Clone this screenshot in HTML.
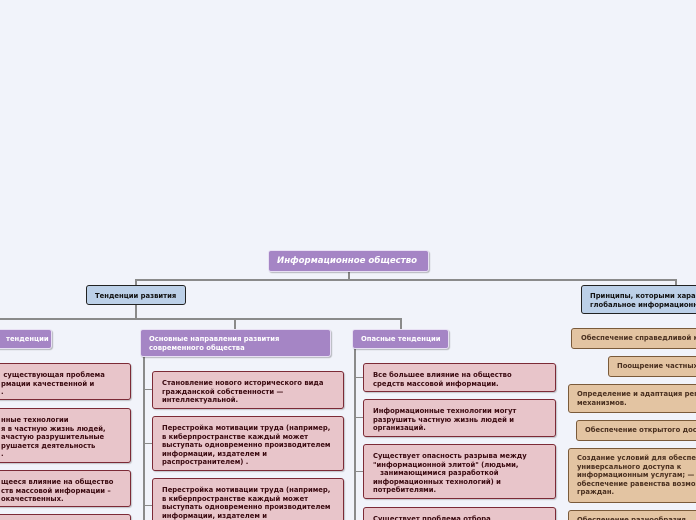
<!DOCTYPE html>
<html><head><meta charset="utf-8"><style>
html,body{margin:0;padding:0;width:696px;height:520px;overflow:hidden}
#c{position:absolute;left:0;top:0;width:696px;height:520px;overflow:hidden;background:#f1f3fa;font-family:"DejaVu Sans","Liberation Sans",sans-serif;font-weight:bold;font-size:6.8px;line-height:8.6px}
.b{position:absolute;box-sizing:border-box;border-radius:3px;overflow:hidden;white-space:nowrap}
.p{background:#e8c5ca;border:1.5px solid #7c2a36;color:#3a0a10;padding:7px 0 0 9px;box-shadow:1px 1px 1px rgba(0,0,0,.2)}
.t{background:#e3c4a2;border:1.5px solid #7a5a3a;color:#4a3020;padding:5px 0 0 8px}
.u{background:#a585c5;border:1px solid #e8e0f4;color:#fff;padding:5px 0 0 8px;box-shadow:1px 1px 1px rgba(0,0,0,.25)}
.bl{background:#bcd0e8;border:1.5px solid #222;color:#111;padding:6px 0 0 8px}
.l{position:absolute;background:#8a8a8a}
</style></head><body><div id="c">
<div class="l" style="left:348px;top:271px;width:2px;height:10px"></div>
<div class="l" style="left:135px;top:279px;width:541px;height:2px"></div>
<div class="l" style="left:135px;top:279px;width:2px;height:7px"></div>
<div class="l" style="left:675px;top:279px;width:2px;height:7px"></div>
<div class="l" style="left:135px;top:305px;width:2px;height:14px"></div>
<div class="l" style="left:0px;top:318px;width:401px;height:2px"></div>
<div class="l" style="left:234px;top:318px;width:2px;height:11px"></div>
<div class="l" style="left:400px;top:318px;width:2px;height:11px"></div>
<div class="l" style="left:143px;top:356px;width:2px;height:164px"></div>
<div class="l" style="left:143px;top:389px;width:9px;height:1px"></div>
<div class="l" style="left:143px;top:443px;width:9px;height:1px"></div>
<div class="l" style="left:143px;top:505px;width:9px;height:1px"></div>
<div class="l" style="left:354px;top:348px;width:2px;height:172px"></div>
<div class="l" style="left:354px;top:377px;width:9px;height:1px"></div>
<div class="l" style="left:354px;top:417px;width:9px;height:1px"></div>
<div class="l" style="left:354px;top:471px;width:9px;height:1px"></div>

<div class="b u" style="left:268px;top:250px;width:161px;height:22px;font-size:8.6px;font-style:italic;padding:6px 0 0 8px">Информационное общество</div>
<div class="b bl" style="left:86px;top:285px;width:100px;height:20px">Тенденции развития</div>
<div class="b bl" style="left:581px;top:285px;width:130px;height:29px;padding:6px 0 0 8px">Принципы, которыми характеризуется<br>глобальное информационное общество</div>

<div class="b u" style="left:-60px;top:329px;width:112px;height:20px;padding-left:65px">тенденции</div>
<div class="b u" style="left:140px;top:329px;width:191px;height:28px">Основные направления развития<br>современного общества</div>
<div class="b u" style="left:352px;top:329px;width:97px;height:20px">Опасные тенденции</div>

<div class="b p" style="left:-100px;top:363px;width:231px;height:37px;padding-left:100px">&nbsp;существующая проблема<br>рмации качественной и<br>.</div>
<div class="b p" style="left:-100px;top:408px;width:231px;height:55px;padding-left:100px">нные технологии<br>я в частную жизнь людей,<br>ачастую разрушительные<br>рушается деятельность<br>.</div>
<div class="b p" style="left:-100px;top:470px;width:231px;height:37px;padding-left:100px">щееся влияние на общество<br>ств массовой информации –<br>окачественных.</div>
<div class="b p" style="left:-100px;top:514px;width:231px;height:30px"></div>

<div class="b p" style="left:152px;top:371px;width:192px;height:38px">Становление нового исторического вида<br>гражданской собственности —<br>интеллектуальной.</div>
<div class="b p" style="left:152px;top:416px;width:192px;height:55px">Перестройка мотивации труда (например,<br>в киберпространстве каждый может<br>выступать одновременно производителем<br>информации, издателем и<br>распространителем) .</div>
<div class="b p" style="left:152px;top:478px;width:192px;height:55px">Перестройка мотивации труда (например,<br>в киберпространстве каждый может<br>выступать одновременно производителем<br>информации, издателем и</div>

<div class="b p" style="left:363px;top:363px;width:193px;height:29px">Все большее влияние на общество<br>средств массовой информации.</div>
<div class="b p" style="left:363px;top:399px;width:193px;height:38px">Информационные технологии могут<br>разрушить частную жизнь людей и<br>организаций.</div>
<div class="b p" style="left:363px;top:444px;width:193px;height:55px">Существует опасность разрыва между<br>"информационной элитой" (людьми,<br>&nbsp;&nbsp;&nbsp;занимающимися разработкой<br>информационных технологий) и<br>потребителями.</div>
<div class="b p" style="left:363px;top:507px;width:193px;height:30px">Существует проблема отбора</div>

<div class="b t" style="left:571px;top:328px;width:160px;height:21px;padding-left:9px">Обеспечение справедливой конкуренции</div>
<div class="b t" style="left:608px;top:356px;width:120px;height:21px">Поощрение частных инвестиций</div>
<div class="b t" style="left:568px;top:384px;width:160px;height:29px;padding-top:5px">Определение и адаптация регулирующих<br>механизмов.</div>
<div class="b t" style="left:576px;top:420px;width:150px;height:21px">Обеспечение открытого доступа к сетям</div>
<div class="b t" style="left:568px;top:448px;width:160px;height:55px">Создание условий для обеспечения<br>универсального доступа к<br>информационным услугам; —<br>обеспечение равенства возможностей<br>граждан.</div>
<div class="b t" style="left:568px;top:510px;width:160px;height:30px">Обеспечение разнообразия</div>
</div></body></html>
